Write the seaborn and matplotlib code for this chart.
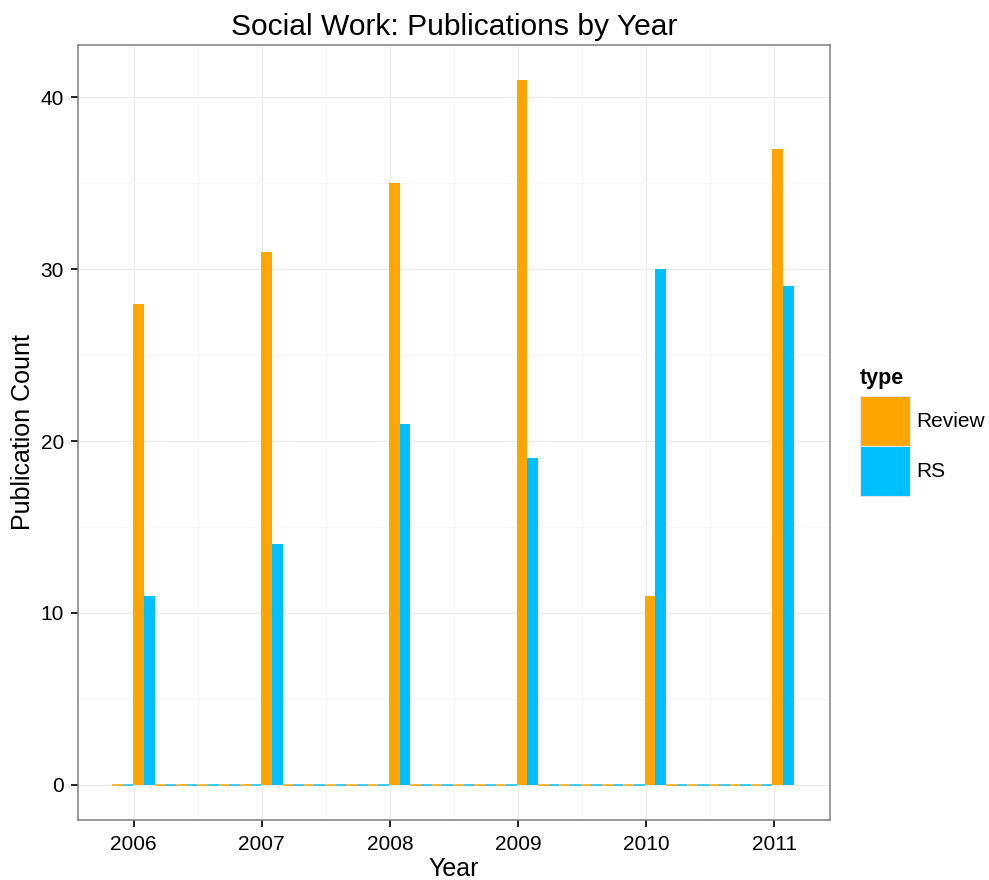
import numpy as np
import pandas as pd
import matplotlib
matplotlib.use("Agg")
import matplotlib.pyplot as plt
import seaborn as sns
from matplotlib.patches import Patch
from matplotlib.ticker import MultipleLocator, FixedLocator

# Publication counts per year
years = [2006, 2007, 2008, 2009, 2010, 2011]
review_counts = [28, 31, 35, 41, 11, 37]
rs_counts = [11, 14, 21, 19, 30, 29]
types = ["Review", "RS"]
palette = {"Review": "#FFA500", "RS": "#00BFFF"}

df = pd.DataFrame({
    "year": years * 2,
    "count": review_counts + rs_counts,
    "type": ["Review"] * len(years) + ["RS"] * len(years),
})

sns.set_theme(style="white")
plt.rcParams["font.family"] = ["Liberation Sans", "DejaVu Sans"]
plt.rcParams["text.color"] = "black"
plt.rcParams["axes.labelcolor"] = "black"

fig = plt.figure(figsize=(9.89, 8.8), dpi=100)
ax = fig.add_axes([78 / 989, 60 / 880, 752 / 989, 775 / 880])

# bins of width 1/6 year, each year starting a bin
binwidth = 1 / 6
bin_start = 2006 - binwidth - 1e-6

sns.histplot(
    data=df, x="year", weights="count", hue="type", hue_order=types,
    palette=palette, multiple="dodge", binwidth=binwidth,
    binrange=(bin_start, 2011.15), shrink=1, alpha=1,
    ax=ax, legend=False,
)
for p in ax.patches:
    if p.get_height() == 0:
        # empty bins still show as a thin coloured line on the baseline
        p.set_edgecolor(p.get_facecolor())
        p.set_linewidth(1.1)
    else:
        p.set_linewidth(0)

ax.set_xlim(2005.567, 2011.433)
ax.set_ylim(-2.05, 43.05)

ax.xaxis.set_major_locator(FixedLocator(years))
ax.xaxis.set_minor_locator(MultipleLocator(0.5))
ax.yaxis.set_major_locator(MultipleLocator(10))
ax.yaxis.set_minor_locator(MultipleLocator(5))
ax.set_xticklabels([str(y) for y in years])

ax.set_facecolor("white")
ax.set_axisbelow(True)
ax.grid(which="major", color="#EBEBEB", linewidth=1.0)
ax.grid(which="minor", color="#F7F7F7", linewidth=0.8)
for s in ax.spines.values():
    s.set_color("#7F7F7F")
    s.set_linewidth(1.1)

ax.tick_params(axis="both", which="major", length=5, width=1.4, color="#222222",
               labelsize=15, labelcolor="black", pad=5, bottom=True, left=True)
ax.tick_params(axis="x", which="major", pad=6)
ax.tick_params(axis="both", which="minor", length=0)

ax.set_xlabel("Year", fontsize=18, labelpad=2)
ax.set_ylabel("Publication Count", fontsize=18, labelpad=4)
ax.set_title("Social Work: Publications by Year", fontsize=21.6, pad=7)

handles = [Patch(facecolor=palette[t], edgecolor="#E5E5E5", linewidth=0.8, label=t) for t in types]
leg = fig.legend(
    handles=handles, title="type", loc="upper left",
    bbox_to_anchor=(860 / 989, 1 - 368 / 880), frameon=False,
    fontsize=15, title_fontproperties={"weight": "bold", "size": 15.5},
    handlelength=2.4, handleheight=3.32, labelspacing=0.0,
    handletextpad=0.3, borderaxespad=0, borderpad=0, alignment="left",
)
# small gap between the legend title and its keys
leg._legend_box.sep = 5

fig.savefig("out.png", dpi=100)
